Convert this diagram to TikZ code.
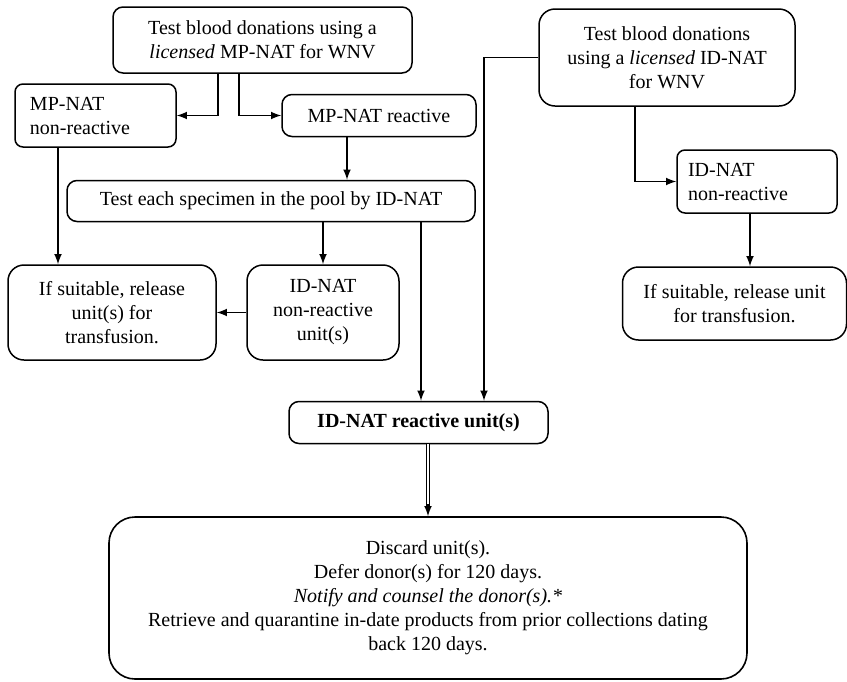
\documentclass[tikz,border=0pt]{standalone}
\usepackage{fontspec}
\setmainfont{Liberation Serif}
\usetikzlibrary{shapes,arrows,positioning}

\begin{document}
\begin{tikzpicture}[node distance=1.5cm, auto, font=\fontsize{10}{12}\selectfont,
  testbox/.style={rectangle, rounded corners=5pt, draw=black, line width=0.75pt, align=center, inner sep=3pt},
  resultbox/.style={rectangle, rounded corners=4pt, draw=black, line width=0.75pt, align=left, inner sep=0pt},
  actionbox/.style={rectangle, rounded corners=13pt, draw=black, line width=0.8pt, align=center, inner sep=3pt},
  arrow/.style={line width=0.75pt,->,>=latex}]

  \useasboundingbox (0,0) rectangle (423.5pt,-340.5pt);

  \node (top1) [testbox, minimum width=149.5pt, minimum height=33pt] at (131.25pt,-20pt) {Test blood donations using a\\\textit{licensed} MP-NAT for WNV};
  \node (mpnon) [resultbox, below of=top1, node distance=37.75pt, xshift=-83.5pt, text width=65.5pt, inner xsep=7.5pt, minimum height=31.5pt] {MP-NAT\\non-reactive};
  \node (mpreac) [testbox, right of=mpnon, node distance=141.75pt, minimum width=97pt, minimum height=21pt] {MP-NAT reactive};
  \node (testeach) [testbox, below of=mpreac, node distance=42.75pt, xshift=-54pt, minimum width=204pt, minimum height=20.5pt] {Test each specimen in the pool by ID-NAT};
  \node (release1) [testbox, below of=mpnon, node distance=98.5pt, xshift=8.25pt, rounded corners=8pt, minimum width=104pt, minimum height=47.5pt] {If suitable, release\\unit(s) for\\transfusion.};
  \node (idnon1) [testbox, right of=release1, node distance=105.5pt, rounded corners=8pt, minimum width=76pt, minimum height=47.5pt] {ID-NAT\\non-reactive\\unit(s)};
  \node (top2) [testbox, right of=top1, node distance=202.25pt, yshift=-8.75pt, rounded corners=8pt, minimum width=128pt, minimum height=48.5pt] {Test blood donations\\using a \textit{licensed} ID-NAT\\for WNV};
  \node (idnon2) [resultbox, below of=top2, node distance=62pt, xshift=45pt, text width=69pt, inner xsep=5.5pt, minimum height=31.5pt] {ID-NAT\\non-reactive};
  \node (release2) [testbox, below of=idnon2, node distance=61pt, xshift=-11.25pt, rounded corners=8pt, minimum width=112pt, minimum height=36.5pt] {If suitable, release unit\\for transfusion.};
  \node (idreac) [testbox, below of=testeach, node distance=110.75pt, xshift=73.75pt, minimum width=129.5pt, minimum height=21pt] {\textbf{ID-NAT reactive unit(s)}};
  \node (final) [actionbox, below of=idreac, node distance=87.75pt, xshift=4.75pt, minimum width=319pt, minimum height=81pt] {Discard unit(s).\\Defer donor(s) for 120 days.\\\textit{Notify and counsel the donor(s).*}\\Retrieve and quarantine in-date products from prior collections dating\\back 120 days.};

  % branch points off the box edges
  \coordinate (t1left) at ([xshift=-22.25pt]top1.south);
  \coordinate (t1right) at ([xshift=-11.75pt]top1.south);
  \coordinate (mprout) at ([xshift=-16pt]mpreac.south);
  \coordinate (mpnout) at ([xshift=-18.75pt]mpnon.south);
  \coordinate (idin) at ([xshift=32.75pt]idreac.north);
  \coordinate (t2out) at ([xshift=-16pt]top2.south);
  \coordinate (in2out) at ([xshift=-3.5pt]idnon2.south);

  \draw [arrow] (t1left) |- (mpnon);
  \draw [arrow] (t1right) |- (mpreac);
  \draw [arrow] (mprout) -- (mprout |- testeach.north);
  \draw [arrow] (mpnout) -- (mpnout |- release1.north);
  \draw [arrow] (idnon1.north |- testeach.south) -- (idnon1);
  \draw [arrow] (idnon1) -- (release1);
  \draw [arrow] ([xshift=1.25pt]idreac.north |- testeach.south) -- ([xshift=1.25pt]idreac.north);
  \draw [arrow] (top2.west) -| (idin);
  \draw [arrow] (t2out) |- (idnon2);
  \draw [arrow] (in2out) -- (in2out |- release2.north);
  % double connector to the final box
  \draw [line width=0.6pt, double, double distance=1.2pt, shorten >=5pt] (final.north |- idreac.south) -- (final.north);
  \draw [arrow] ([yshift=6pt]final.north) -- (final.north);
\end{tikzpicture}
\end{document}
